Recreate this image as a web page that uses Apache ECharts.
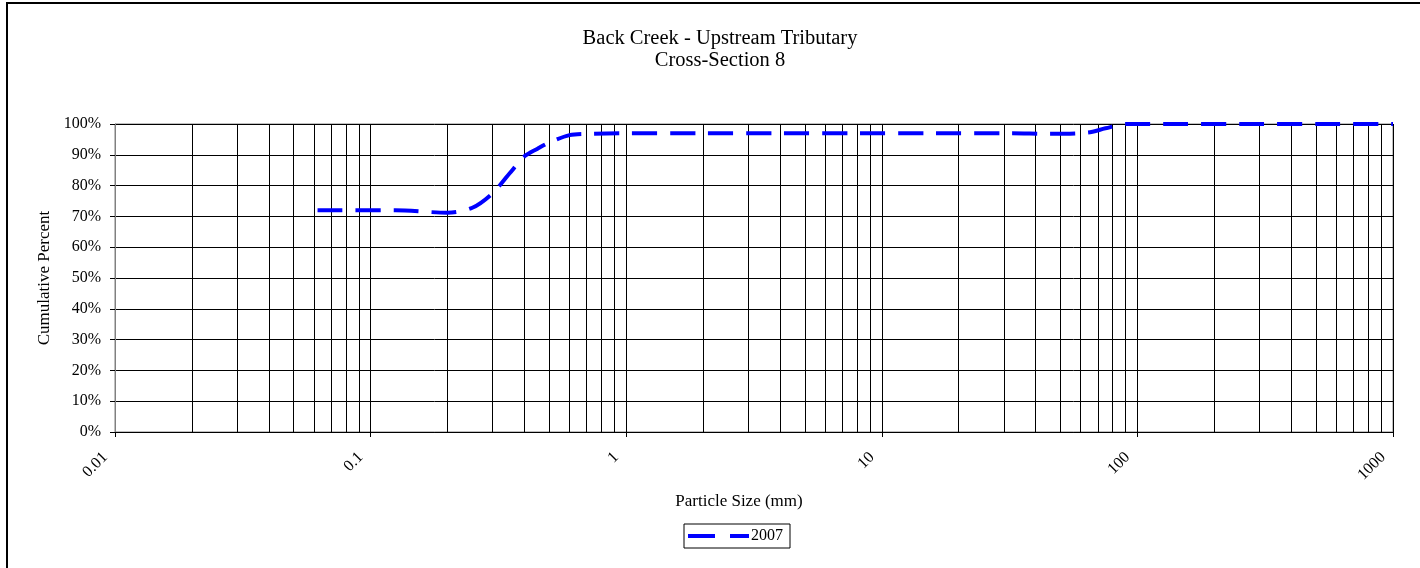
<!DOCTYPE html>
<html>
<head>
    <meta charset="UTF-8"/>
    <title>Back Creek - Cross-Section 8</title>
    <style>
        html, body{
            margin: 0;
            background: #fff;
        }
    </style>
    <script src="https://cdn.jsdelivr.net/npm/echarts@6/dist/echarts.min.js"></script>
</head>
<body>
<div id="container" style="width: 1420px;height: 568px;"></div>

<script>
  // particle size (mm) and cumulative percent finer
  var sizes = [0.062, 0.125, 0.2, 0.25, 0.3, 0.35, 0.4, 0.45, 0.5, 0.6, 0.7, 1, 2, 4, 8, 16, 32, 45, 64, 75, 90, 128, 256, 512, 1000];
  var percents = [72, 72, 71.2, 72.8, 77.5, 84, 89.5, 92, 94, 96.4, 96.8, 97, 97, 97, 97, 97, 97, 96.8, 97.2, 98.6, 100, 100, 100, 100, 100];
  var seriesName = '2007';
  var titleLines = ['Back Creek - Upstream Tributary', 'Cross-Section 8'];

  // minor vertical gridlines 2..9 in each decade
  var decades = [0.01, 0.1, 1, 10, 100];
  var minorGrid = [];
  for (var d = 0; d < decades.length; d++) {
      for (var k = 2; k <= 9; k++) {
          minorGrid.push({xAxis: +(decades[d] * k).toPrecision(3)});
      }
  }

  var data = [];
  for (var i = 0; i < sizes.length; i++) {
      data.push([sizes[i], percents[i]]);
  }

  var font = 'Liberation Serif';
  var dom = document.getElementById("container");
  var myChart = echarts.init(dom);
  var option = {
      animation: false,
      backgroundColor: '#fff',
      title: [{
          text: titleLines.join('\n'),
          left: 720,
          top: 28,
          padding: 0,
          textAlign: 'center',
          textStyle: {fontFamily: font, fontSize: 20.5, lineHeight: 22, fontWeight: 'normal', color: '#000'}
      }, {
          text: 'Particle Size (mm)',
          left: 739,
          top: 493,
          padding: 0,
          textAlign: 'center',
          textStyle: {fontFamily: font, fontSize: 17, fontWeight: 'normal', color: '#000'}
      }],
      legend: {
          data: [{
              name: seriesName,
              // two dashes, like the dashed series line
              icon: 'path://M0,0L27,0L27,4L0,4ZM42,0L61,0L61,4L42,4Z'
          }],
          left: 684,
          top: 524,
          padding: [4, 7, 4, 4],
          itemGap: 0,
          borderColor: '#000',
          borderWidth: 1,
          itemWidth: 61,
          itemHeight: 4,
          itemStyle: {color: '#0000ff'},
          textStyle: {fontFamily: font, fontSize: 16, color: '#000', padding: [0, 0, 0, -3]}
      },
      grid: {
          left: 115,
          right: 27,
          top: 124,
          bottom: 136,
          show: true,
          borderColor: '#808080',
          borderWidth: 1
      },
      xAxis: {
          type: 'log',
          logBase: 10,
          min: 0.01,
          max: 1000,
          axisLine: {lineStyle: {color: '#000', width: 1}},
          axisTick: {show: true, length: 5, lineStyle: {color: '#000'}},
          axisLabel: {
              rotate: 45,
              margin: 13,
              padding: [0, 14, 0, 0],
              fontFamily: font,
              fontSize: 16,
              color: '#000',
              formatter: function (v) { return String(v); }
          },
          splitLine: {show: true, lineStyle: {color: '#000', width: 1}}
      },
      yAxis: {
          type: 'value',
          min: 0,
          max: 100,
          interval: 10,
          name: 'Cumulative Percent',
          nameLocation: 'middle',
          nameGap: 59,
          nameTextStyle: {fontFamily: font, fontSize: 17, color: '#000'},
          axisLine: {show: true, lineStyle: {color: '#808080', width: 1}},
          axisTick: {show: true, length: 5, lineStyle: {color: '#000'}},
          axisLabel: {
              margin: 14,
              formatter: '{value}%',
              fontFamily: font,
              fontSize: 16,
              color: '#000'
          },
          splitLine: {show: true, lineStyle: {color: '#000', width: 1}}
      },
      graphic: [{
          type: 'rect',
          shape: {x: 7, y: 3, width: 1430, height: 600},
          style: {fill: 'none', stroke: '#000', lineWidth: 2},
          silent: true
      }],
      series: [{
          name: seriesName,
          type: 'line',
          data: data,
          smooth: 0.3,
          symbol: 'none',
          z: 3,
          lineStyle: {color: '#0000ff', width: 4, type: [25, 13]},
          itemStyle: {color: '#0000ff'},
          markLine: {
              silent: true,
              z: 1,
              symbol: 'none',
              label: {show: false},
              lineStyle: {color: '#000', width: 1, type: 'solid'},
              data: minorGrid
          }
      }]
  };
  myChart.setOption(option);
</script>

</body>
</html>
